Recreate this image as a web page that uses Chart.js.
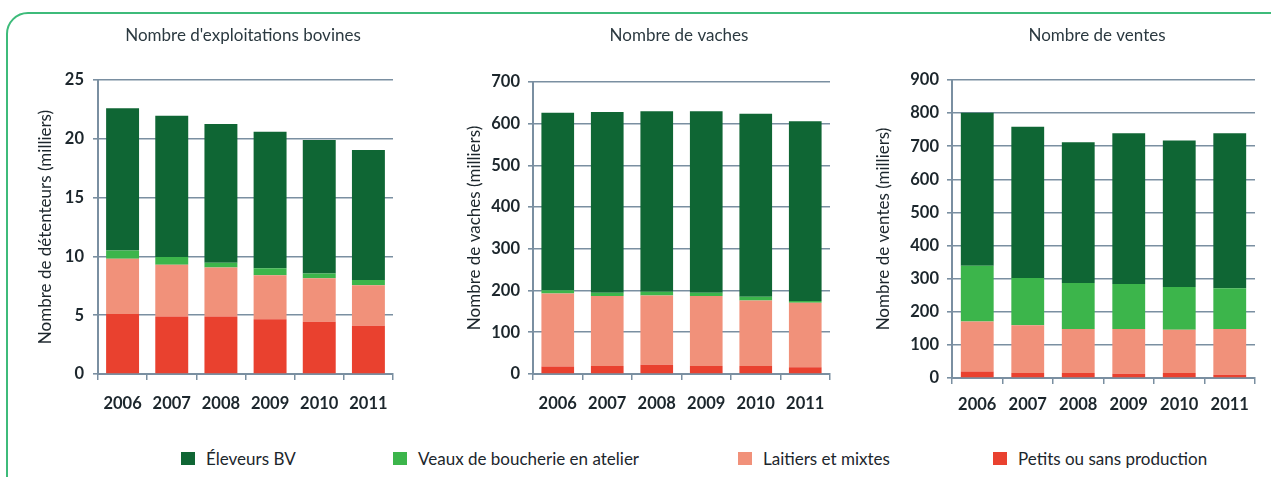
<!DOCTYPE html>
<html>
<head>
<meta charset="utf-8">
<script src="https://cdn.jsdelivr.net/npm/chart.js@4"></script>
<style>
  html, body { margin: 0; padding: 0; background: #fff; overflow: hidden; width: 1271px; height: 477px; }
  #frame { position: absolute; left: 6px; top: 12px; width: 1400px; height: 600px; border: 2.5px solid #3dbb7a; border-radius: 22px; box-sizing: border-box; }
  canvas { position: absolute; }
  #legend { position: absolute; left: 0; top: 448px; width: 1271px; height: 20px; font: 17px Lato, sans-serif; color: #1c262c; }
  .item { position: absolute; top: 0; height: 20px; display: flex; align-items: center; white-space: nowrap; }
  .sw { width: 14px; height: 13px; margin-right: 11px; }
</style>
</head>
<body>
<div id="frame"></div>
<canvas id="c1" width="446" height="412" style="left:20px;top:14px"></canvas>
<canvas id="c2" width="478" height="412" style="left:440px;top:14px"></canvas>
<canvas id="c3" width="474" height="412" style="left:860px;top:14px"></canvas>
<div id="legend"></div>
<script>
const years = ['2006', '2007', '2008', '2009', '2010', '2011'];
const seriesNames = ['Petits ou sans production', 'Laitiers et mixtes', 'Veaux de boucherie en atelier', 'Éleveurs BV'];
const seriesColors = ['#e9412f', '#f1917a', '#3cb54b', '#0f6634'];

// nombre d'exploitations (milliers)
const petits1 = [5.1, 4.9, 4.9, 4.65, 4.45, 4.1];
const laitiers1 = [4.7, 4.4, 4.15, 3.75, 3.7, 3.45];
const veaux1 = [0.7, 0.65, 0.4, 0.6, 0.4, 0.45];
const eleveurs1 = [12.1, 12.0, 11.8, 11.6, 11.35, 11.05];

// nombre de vaches (milliers)
const petits2 = [18, 19, 22, 19, 19, 16];
const laitiers2 = [175, 168, 166, 168, 157, 155];
const veaux2 = [8, 8, 9, 8, 9, 4];
const eleveurs2 = [425, 433, 433, 435, 439, 431];

// nombre de ventes (milliers)
const petits3 = [20, 15, 15, 13, 15, 10];
const laitiers3 = [151, 144, 133, 135, 131, 138];
const veaux3 = [168, 143, 139, 136, 129, 123];
const eleveurs3 = [462, 457, 425, 455, 442, 468];

const gridColor = '#7a8fa1';
const textColor = '#1c262c';
const font = 'Lato, sans-serif';

function makeChart(id, title, yTitle, data, max, step, o) {
  new Chart(document.getElementById(id), {
    type: 'bar',
    data: {
      labels: years,
      datasets: data.map((d, i) => ({
        label: seriesNames[i],
        data: d,
        backgroundColor: seriesColors[i],
        borderWidth: 0,
        barPercentage: o.bar,
        categoryPercentage: 1
      }))
    },
    options: {
      responsive: false,
      animation: false,
      devicePixelRatio: 1,
      layout: { padding: 0 },
      plugins: {
        legend: { display: false },
        tooltip: { enabled: false },
        title: {
          display: true,
          text: title,
          color: '#2b3940',
          font: { family: font, size: 17, weight: 'normal', lineHeight: 1.2 },
          padding: { top: 11.8, bottom: o.titleGap }
        }
      },
      scales: {
        x: {
          stacked: true,
          grid: { drawOnChartArea: false, drawTicks: true, tickLength: 6, color: gridColor, lineWidth: 1.5, offset: true },
          border: { display: true, color: gridColor, width: 2 },
          ticks: { color: textColor, padding: o.xPad, font: { family: font, size: 16.5, weight: 'bold' } },
          afterFit: s => { s.height = o.xHeight; }
        },
        y: {
          stacked: true,
          min: 0,
          max: max,
          grid: { color: gridColor, lineWidth: 1.6, tickLength: 5 },
          border: { display: true, color: gridColor, width: 2 },
          ticks: { stepSize: step, color: textColor, padding: o.yPad, font: { family: font, size: 16.5, weight: 'bold' } },
          title: {
            display: true,
            text: yTitle,
            color: textColor,
            font: { family: font, size: 17, weight: 'normal', lineHeight: 1.2 },
            padding: { top: o.yTitlePad, bottom: 0 }
          },
          afterFit: s => { s.width = o.yWidth; }
        },
        yR: {
          position: 'right',
          display: true,
          grid: { display: false },
          border: { display: false },
          ticks: { display: false },
          afterFit: s => { s.width = o.rWidth; }
        }
      }
    }
  });
}

makeChart('c1', "Nombre d'exploitations bovines", 'Nombre de détenteurs (milliers)',
  [petits1, laitiers1, veaux1, eleveurs1], 25, 5,
  { bar: 0.67, titleGap: 33.8, xHeight: 52, xPad: 14, yPad: 9, yTitlePad: 15, yWidth: 78, rWidth: 73 });

makeChart('c2', 'Nombre de vaches', 'Nombre de vaches (milliers)',
  [petits2, laitiers2, veaux2, eleveurs2], 700, 100,
  { bar: 0.66, titleGap: 35.8, xHeight: 52, xPad: 14, yPad: 8, yTitlePad: 24, yWidth: 93, rWidth: 88 });

makeChart('c3', 'Nombre de ventes', 'Nombre de ventes (milliers)',
  [petits3, laitiers3, veaux3, eleveurs3], 900, 100,
  { bar: 0.65, titleGap: 33.8, xHeight: 48, xPad: 11, yPad: 8, yTitlePad: 13, yWidth: 92, rWidth: 79 });

// legende commune
const legendLeft = [181, 393, 738, 993];
const legend = document.getElementById('legend');
[3, 2, 1, 0].forEach((s, i) => {
  const item = document.createElement('div');
  item.className = 'item';
  item.style.left = legendLeft[i] + 'px';
  item.innerHTML = '<span class="sw" style="background:' + seriesColors[s] + '"></span>' + seriesNames[s];
  legend.appendChild(item);
});
</script>
</body>
</html>
